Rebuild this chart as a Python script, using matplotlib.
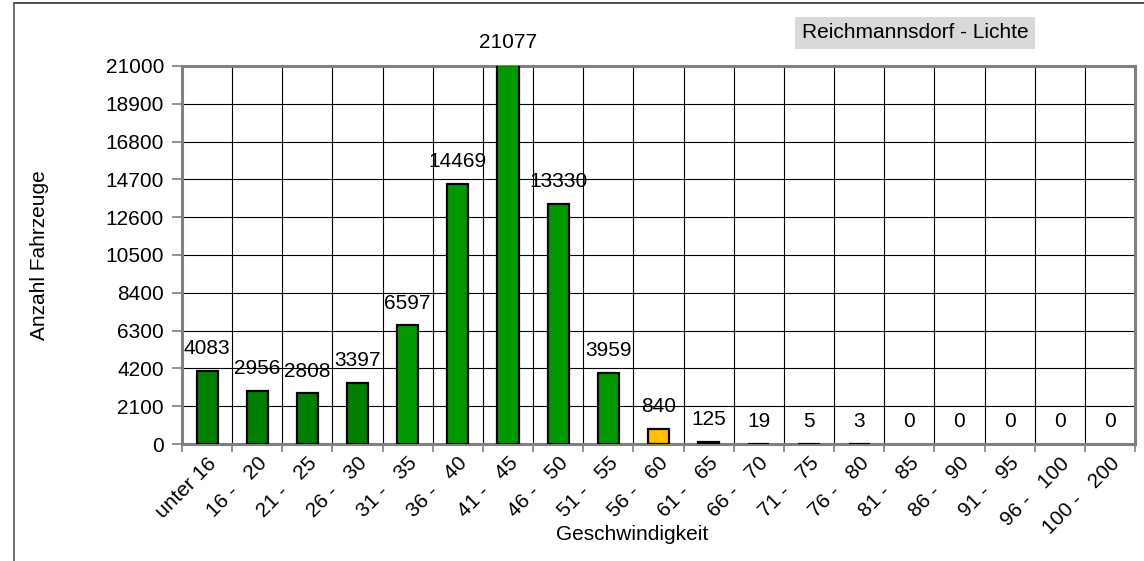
import numpy as np
import matplotlib
matplotlib.use("Agg")
import matplotlib.pyplot as plt
from matplotlib.lines import Line2D

plt.rcParams['font.family'] = ['Liberation Sans', 'DejaVu Sans']

# Data
categories = ["unter 16", "16 -   20", "21 -   25", "26 -   30", "31 -   35",
              "36 -   40", "41 -   45", "46 -   50", "51 -   55", "56 -   60",
              "61 -   65", "66 -   70", "71 -   75", "76 -   80", "81 -   85",
              "86 -   90", "91 -   95", "96 -   100", "100 -   200"]
counts = [4083, 2956, 2808, 3397, 6597, 14469, 21077, 13330, 3959, 840,
          125, 19, 5, 3, 0, 0, 0, 0, 0]
bar_colors = (["#007f00"] * 4 + ["#009900"] * 5 + ["#ffc000"]
              + ["#ff0000"] * 9)
yticks = np.arange(0, 21001, 2100)

FS = 15

fig = plt.figure(figsize=(11.44, 5.61), dpi=100)
ax = fig.add_axes([182/1144, 117/561, (1135-182)/1144, (444-66)/561])

x = np.arange(len(categories))
edge_w = [1.6 if v > 0 else 0 for v in counts]
ax.bar(x, counts, width=0.42, color=bar_colors, edgecolor="black",
       linewidth=edge_w, zorder=3)

ax.set_xlim(-0.5, len(categories) - 0.5)
ax.set_ylim(0, 21000)
ax.set_yticks(yticks)
ax.set_yticklabels([str(v) for v in yticks], fontsize=FS)
ax.tick_params(axis="y", length=7, width=1.2, color="#808080", pad=6)

# labels at centre, ticks + grid at category boundaries
ax.set_xticks(x)
ax.set_xticklabels(categories, rotation=45, ha="right", va="top",
                   rotation_mode="anchor", fontsize=FS)
ax.tick_params(axis="x", which="major", length=0, pad=7)
ax.set_xticks(np.arange(-0.5, len(categories)), minor=True)
ax.tick_params(axis="x", which="minor", length=6, width=1.2, color="#808080")

ax.grid(axis="y", which="major", color="black", linewidth=0.8, zorder=0)
ax.grid(axis="x", which="minor", color="black", linewidth=0.8, zorder=0)
ax.set_axisbelow(True)

for sp in ax.spines.values():
    sp.set_color("#808080")
    sp.set_linewidth(2.2)

# value labels above bars
for xi, v in zip(x, counts):
    ax.annotate(str(v), (xi, v), xytext=(0, 16), textcoords="offset points",
                ha="center", va="center", fontsize=FS, annotation_clip=False)

fig.text(40/1144, 1 - 255/561, "Anzahl Fahrzeuge", rotation=90,
         ha="center", va="center", fontsize=FS)
fig.text(632/1144, 1 - 535/561, "Geschwindigkeit", ha="center",
         va="center", fontsize=FS)
fig.text(915/1144, 1 - 33/561, "Reichmannsdorf - Lichte", ha="center",
         va="center", fontsize=FS,
         bbox=dict(boxstyle="square,pad=0.3", facecolor="#d9d9d9",
                   edgecolor="none"))

# outer frame lines
fig.add_artist(Line2D([14/1144, 1], [1 - 3/561, 1 - 3/561],
                      transform=fig.transFigure, color="#333333", linewidth=1.2))
fig.add_artist(Line2D([14/1144, 14/1144], [0, 1 - 3/561],
                      transform=fig.transFigure, color="#555555", linewidth=1.2))

fig.savefig("out.png", dpi=100)
